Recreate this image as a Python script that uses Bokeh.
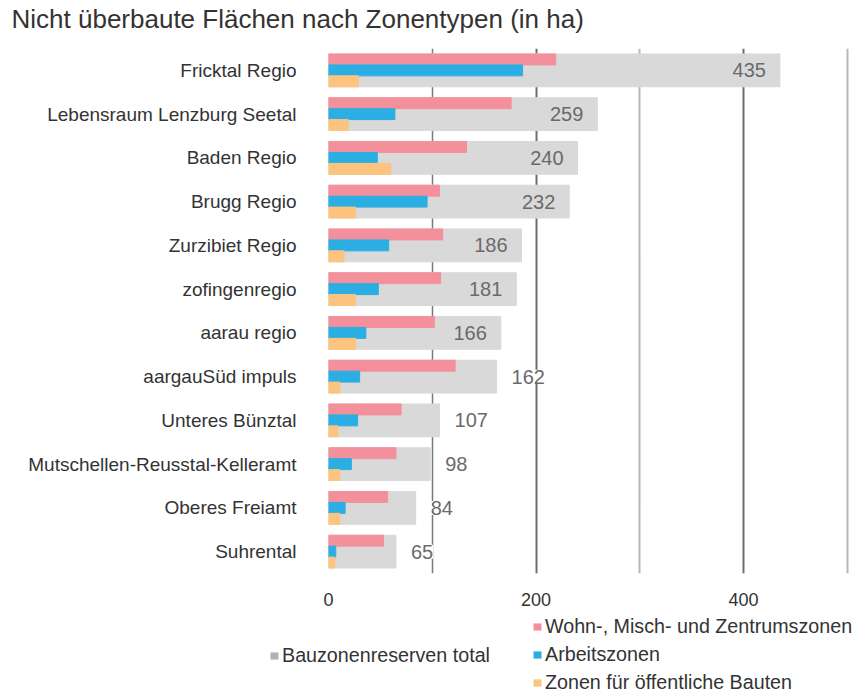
from bokeh.plotting import figure
from bokeh.models import (ColumnDataSource, FactorRange, FixedTicker, Grid,
                          Legend, LegendItem, LabelSet, Label)
from bokeh.core.properties import value
from bokeh.transform import dodge
from bokeh.embed import file_html
from bokeh.resources import INLINE

title_text = "Nicht überbaute Flächen nach Zonentypen (in ha)"
regions = ["Fricktal Regio", "Lebensraum Lenzburg Seetal", "Baden Regio",
           "Brugg Regio", "Zurzibiet Regio", "zofingenregio", "aarau regio",
           "aargauSüd impuls", "Unteres Bünztal",
           "Mutschellen-Reusstal-Kelleramt", "Oberes Freiamt", "Suhrental"]
total = [435, 259, 240, 232, 186, 181, 166, 162, 107, 98, 84, 65]
wohn = [219, 176, 133, 107, 110, 108, 102, 122, 70, 65, 57, 53]
arbeit = [187, 64, 47, 95, 58, 48, 36, 30, 28, 22, 16, 7]
oeff = [29, 19, 60, 26, 15, 26, 26, 11, 9, 11, 11, 6]
x_ticks = [0, 200, 400]
minor_dark_ticks = [100]
light_ticks = [300, 500]
legend_labels = ["Bauzonenreserven total", "Wohn-, Misch- und Zentrumszonen",
                 "Arbeitszonen", "Zonen für öffentliche Bauten"]

FONT = "Liberation Sans"
TXT = "#333333"
C_TOT, C_W, C_A, C_O = "#d9d9d9", "#f4909c", "#2aaee3", "#fcc47f"


def blank(h):
    f = figure(width=852, height=h, x_range=(0, 1), y_range=(0, 1),
               output_backend="svg", toolbar_location=None,
               x_axis_location=None, y_axis_location=None,
               min_border=0, min_border_left=0, min_border_right=0,
               min_border_top=0, min_border_bottom=0)
    f.outline_line_color = None
    f.xgrid.visible = False
    f.ygrid.visible = False
    return f


# ---- title strip
p0 = blank(48)
p0.add_layout(Label(x=11, y=30, x_units="screen", y_units="screen",
                    text=title_text, text_font=FONT, text_font_size="26px",
                    text_color=TXT, text_baseline="alphabetic"))

# ---- chart
src = ColumnDataSource(dict(region=regions, total=total, wohn=wohn,
                            arbeit=arbeit, oeff=oeff))

inside = [i for i, t in enumerate(total) if t >= 165]
outside = [i for i, t in enumerate(total) if t < 165]
src_in = ColumnDataSource(dict(region=[regions[i] for i in inside],
                               total=[total[i] for i in inside],
                               lab=[str(total[i]) for i in inside]))
src_out = ColumnDataSource(dict(region=[regions[i] for i in outside],
                                total=[total[i] for i in outside],
                                lab=[str(total[i]) for i in outside]))

p = figure(width=852, height=565,
           y_range=FactorRange(factors=list(reversed(regions)), range_padding=0),
           x_range=(0, 503),
           output_backend="svg", toolbar_location=None,
           min_border_left=328, min_border_right=2,
           min_border_top=0, min_border_bottom=40)

p.outline_line_color = None
p.background_fill_color = "white"

p.xaxis.ticker = FixedTicker(ticks=x_ticks)
p.xgrid.grid_line_color = "#6e6e6e"
p.xgrid.grid_line_width = 2
p.ygrid.grid_line_color = None
p.add_layout(Grid(dimension=0, ticker=FixedTicker(ticks=minor_dark_ticks),
                  grid_line_color="#7a7a7a", grid_line_width=1.5))
p.add_layout(Grid(dimension=0, ticker=FixedTicker(ticks=light_ticks),
                  grid_line_color="#b8b8b8", grid_line_width=2))

p.xaxis.axis_line_color = None
p.xaxis.major_tick_line_color = None
p.xaxis.minor_tick_line_color = None
p.xaxis.major_tick_out = 0
p.xaxis.major_tick_in = 0
p.xaxis.major_label_standoff = 19
p.xaxis.major_label_text_font = FONT
p.xaxis.major_label_text_font_size = "18px"
p.xaxis.major_label_text_color = TXT

p.yaxis.axis_line_color = None
p.yaxis.major_tick_line_color = None
p.yaxis.major_tick_out = 0
p.yaxis.major_tick_in = 0
p.yaxis.major_label_standoff = 32
p.yaxis.major_label_text_font = FONT
p.yaxis.major_label_text_font_size = "19px"
p.yaxis.major_label_text_color = TXT

p.hbar(y="region", left=0, right="total", height=0.75, color=C_TOT, source=src)
p.hbar(y=dodge("region", 0.25, range=p.y_range), left=0, right="wohn",
       height=0.25, color=C_W, source=src)
p.hbar(y=dodge("region", 0.0, range=p.y_range), left=0, right="arbeit",
       height=0.25, color=C_A, source=src)
p.hbar(y=dodge("region", -0.25, range=p.y_range), left=0, right="oeff",
       height=0.25, color=C_O, source=src)

p.add_layout(LabelSet(x="total", y="region", text="lab", source=src_in,
                      x_offset=-14, text_align="right", text_baseline="middle",
                      text_font=value(FONT), text_font_size=value("20px"),
                      text_color="#6a6a6a"))
p.add_layout(LabelSet(x="total", y="region", text="lab", source=src_out,
                      x_offset=15, text_align="left", text_baseline="middle",
                      text_font=value(FONT), text_font_size=value("20px"),
                      text_color="#6a6a6a", background_fill_color="white"))

# ---- legend strip
p2 = blank(81)
sw = dict(y=[-5], left=[0], right=[0])
l_tot = p2.hbar(source=ColumnDataSource(sw), y="y", left="left", right="right",
                height=0.1, fill_color="#b3b3b3", line_alpha=0)
l_w = p2.hbar(source=ColumnDataSource(sw), y="y", left="left", right="right",
              height=0.1, fill_color=C_W, line_alpha=0)
l_a = p2.hbar(source=ColumnDataSource(sw), y="y", left="left", right="right",
              height=0.1, fill_color=C_A, line_alpha=0)
l_o = p2.hbar(source=ColumnDataSource(sw), y="y", left="left", right="right",
              height=0.1, fill_color=C_O, line_alpha=0)


def style(leg):
    leg.label_text_font = FONT
    leg.label_text_font_size = "19.7px"
    leg.label_text_color = TXT
    leg.glyph_width = 10
    leg.glyph_height = 9
    leg.label_height = 23
    leg.label_standoff = 3
    leg.spacing = 5
    leg.padding = 0
    leg.margin = 0
    leg.border_line_color = None
    leg.background_fill_alpha = 0


leg1 = Legend(items=[LegendItem(label=legend_labels[0], renderers=[l_tot])],
              location=(269, 27))
leg2 = Legend(items=[LegendItem(label=legend_labels[1], renderers=[l_w]),
                     LegendItem(label=legend_labels[2], renderers=[l_a]),
                     LegendItem(label=legend_labels[3], renderers=[l_o])],
              location=(532, 0))
style(leg1)
style(leg2)
p2.add_layout(leg1)
p2.add_layout(leg2)

open("out.html", "w").write(file_html([p0, p, p2], INLINE))
